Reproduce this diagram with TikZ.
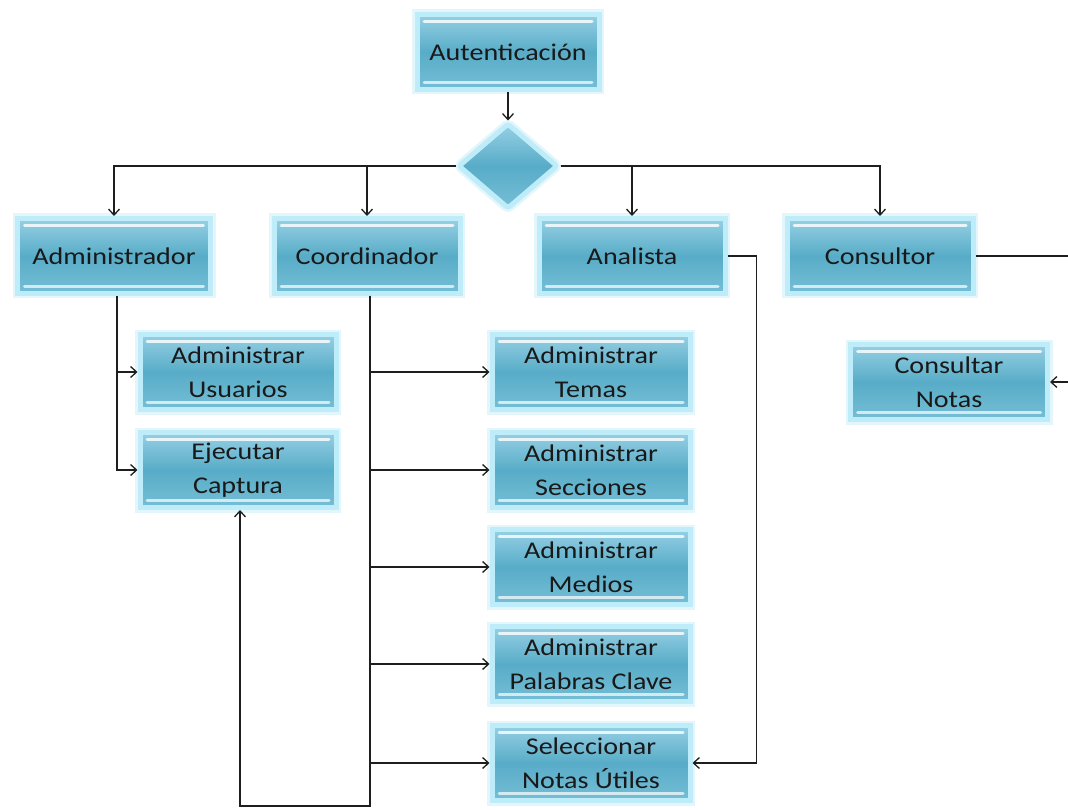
\documentclass[tikz,border=0pt]{standalone}
\usepackage{fontspec}
\setmainfont{Carlito}[FakeStretch=1.17]
\usepackage{tikz}
\usetikzlibrary{calc,positioning,arrows.meta,shapes.geometric}
\definecolor{cajaSup}{RGB}{150,208,228}
\definecolor{cajaMed}{RGB}{88,172,200}
\definecolor{cajaInf}{RGB}{118,190,214}
\definecolor{brillo}{RGB}{190,236,248}
\definecolor{linea}{RGB}{30,30,30}

\tikzset{
  caja/.style={rectangle, draw=brillo, line width=5pt,
    preaction={draw=brillo!45, line width=10pt},
    top color=cajaSup, bottom color=cajaInf, middle color=cajaMed,
    minimum width=193, minimum height=75, inner sep=2pt, align=center,
    font=\fontsize{24}{34}\selectfont, text=black!90,
    path picture={
      \draw[white, opacity=.8, line width=3pt, line cap=round]
        ([shift={(7pt,-7pt)}]path picture bounding box.north west) --
        ([shift={(-7pt,-7pt)}]path picture bounding box.north east);
      \draw[white, opacity=.7, line width=3pt, line cap=round]
        ([shift={(7pt,7pt)}]path picture bounding box.south west) --
        ([shift={(-7pt,7pt)}]path picture bounding box.south east);
    }},
  rombo/.style={diamond, draw=brillo, line width=5pt,
    preaction={draw=brillo!45, line width=10pt},
    top color=cajaSup, bottom color=cajaInf, middle color=cajaMed,
    minimum width=100, minimum height=86, inner sep=0pt, rounded corners=3pt},
  flecha/.style={draw=linea, line width=1.3pt, -{Straight Barb[length=6pt,width=11pt]}},
}

\begin{document}
\begin{tikzpicture}[x=1pt, y=-1pt]
  \useasboundingbox (0,0) rectangle (1068,810);
  % Autenticacion y decision
  \node[caja, minimum width=182] (aut) at (508,52) {Autenticación};
  \node[rombo] (dec) at (508,166) {};
  % Roles
  \node[caja] (adm) at (114,256) {Administrador};
  \node[caja, minimum width=186] (coo) at (367,256) {Coordinador};
  \node[caja, minimum width=186] (ana) at (632,256) {Analista};
  \node[caja, minimum width=186] (con) at (880,256) {Consultor};
  % Tareas del administrador
  \node[caja, minimum width=196] (usu) at (238,372) {Administrar\\Usuarios};
  \node[caja, minimum width=196] (cap) at (238,470) {Ejecutar\\Captura};
  % Tareas del coordinador
  \node[caja, minimum width=198] (tem) at (591,372) {Administrar\\Temas};
  \node[caja, minimum width=198] (sec) at (591,470) {Administrar\\Secciones};
  \node[caja, minimum width=198] (med) at (591,567) {Administrar\\Medios};
  \node[caja, minimum width=198] (pal) at (591,664) {Administrar\\Palabras Clave};
  \node[caja, minimum width=198] (sel) at (591,763) {Seleccionar\\Notas Útiles};
  % Tarea del consultor
  \node[caja, minimum width=197] (cno) at (949,382) {Consultar\\Notas};
  % Conectores
  \draw[flecha] (aut) -- (dec);
  \draw[flecha] (dec.west) -| (adm.north);
  \draw[flecha] (dec.west) -| (coo.north);
  \draw[flecha] (dec.east) -| (ana.north);
  \draw[flecha] (dec.east) -| (con.north);
  \draw[flecha] ([xshift=3pt]adm.south) |- (usu.west);
  \draw[flecha] ([xshift=3pt]adm.south) |- (cap.west);
  \draw[flecha] ([xshift=3pt]coo.south) |- (tem.west);
  \draw[flecha] ([xshift=3pt]coo.south) |- (sec.west);
  \draw[flecha] ([xshift=3pt]coo.south) |- (med.west);
  \draw[flecha] ([xshift=3pt]coo.south) |- (pal.west);
  \draw[flecha] ([xshift=3pt]coo.south) |- (sel.west);
  \coordinate (fondo) at (240,806);
  \draw[flecha] ([xshift=3pt]coo.south) |- (fondo) -- (cap.south -| fondo);
  \draw[flecha] (ana.east) -| ($(sel.east)+(64,0)$) -- (sel.east);
  \draw[flecha] (con.east) -| ($(cno.east)+(45,0)$) -- (cno.east);
\end{tikzpicture}
\end{document}
